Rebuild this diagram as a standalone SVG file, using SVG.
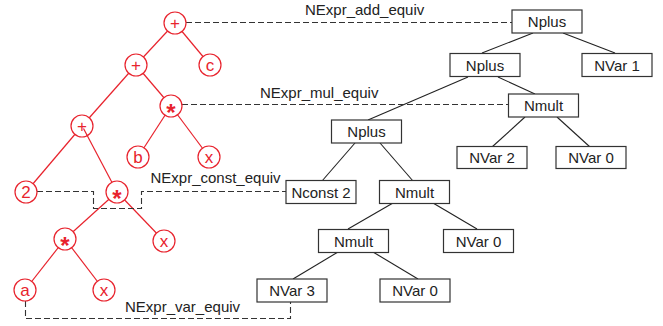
<svg xmlns="http://www.w3.org/2000/svg" width="663" height="326" viewBox="0 0 663 326">
<style>
.bg{fill:#fff}
.box rect{fill:#fff;stroke:#333;stroke-width:1.2}
.box text{font-family:"Liberation Sans",Arial,sans-serif;font-size:15px;fill:#222;text-anchor:middle}
.cn circle{fill:#fff;stroke:#e8232d;stroke-width:1.2}
.cn text{font-family:"Liberation Sans",Arial,sans-serif;font-size:17px;fill:#e8232d;text-anchor:middle}
.cn text.st{font-size:24px;font-weight:bold}
.red line{stroke:#e8232d;stroke-width:1.2}
.blk line{stroke:#222;stroke-width:1.1}
.dash{fill:none;stroke:#333;stroke-width:1.1;stroke-dasharray:6,3}
.lbl{font-family:"Liberation Sans",Arial,sans-serif;font-size:15px;fill:#222}
</style>
<rect class="bg" width="663" height="326"/>
<g id="connectors">
 <g class="red">
  <line x1="175" y1="23" x2="136" y2="65"/>
  <line x1="175" y1="23" x2="210" y2="65"/>
  <line x1="136" y1="65" x2="82" y2="126"/>
  <line x1="136" y1="65" x2="171" y2="106"/>
  <line x1="171" y1="106" x2="138" y2="157"/>
  <line x1="171" y1="106" x2="209" y2="157"/>
  <line x1="82" y1="126" x2="26" y2="192"/>
  <line x1="117" y1="192" x2="65" y2="239"/>
  <line x1="117" y1="192" x2="164" y2="241"/>
  <line x1="65" y1="239" x2="25" y2="290"/>
  <line x1="65" y1="239" x2="104" y2="290"/>
 </g>
 <g class="blk">
  <line x1="533" y1="33" x2="482" y2="53"/>
  <line x1="563" y1="33" x2="615" y2="53"/>
  <line x1="468" y1="77" x2="368" y2="120"/>
  <line x1="498" y1="77" x2="535" y2="94"/>
  <line x1="525" y1="117" x2="492" y2="147"/>
  <line x1="557" y1="117" x2="590" y2="147"/>
  <line x1="355" y1="143" x2="322" y2="181"/>
  <line x1="380" y1="143" x2="413" y2="181"/>
  <line x1="393" y1="203" x2="348" y2="229"/>
  <line x1="433" y1="203" x2="477" y2="229"/>
  <line x1="338" y1="252" x2="293" y2="279"/>
  <line x1="373" y1="252" x2="418" y2="279"/>
 </g>
 <path class="dash" d="M186,22.5H512"/>
 <path class="dash" d="M182,104.5H508"/>
 <path class="dash" d="M37,191.5H93.5V208.5H141.5V191.5H286"/>
 <path class="dash" d="M25.5,301V318.5H290.5V302"/>
 <text class="lbl" x="305" y="15">NExpr_add_equiv</text>
 <text class="lbl" x="260" y="98">NExpr_mul_equiv</text>
 <text class="lbl" x="150.5" y="183">NExpr_const_equiv</text>
 <text class="lbl" x="125" y="311.5">NExpr_var_equiv</text>
</g>
<g id="c_plus1" class="cn"><circle cx="175" cy="23" r="11"/><text x="175" y="29">+</text></g>
<g id="c_c" class="cn"><circle cx="210" cy="65" r="11"/><text x="210" y="71">c</text></g>
<g id="c_plus2" class="cn"><circle cx="136" cy="65" r="11"/><text x="136" y="71">+</text></g>
<g id="c_mul1" class="cn"><circle cx="171" cy="106" r="11"/><text class="st" x="171" y="121">*</text></g>
<g id="c_plus3" class="cn"><circle cx="82" cy="126" r="11"/><text x="82" y="132">+</text></g>
<g id="c_b" class="cn"><circle cx="138" cy="157" r="11"/><text x="138" y="163">b</text></g>
<g id="c_x1" class="cn"><circle cx="209" cy="157" r="11"/><text x="209" y="163">x</text></g>
<g id="c_2" class="cn"><circle cx="26" cy="192" r="11"/><text x="26" y="198">2</text></g>
<g id="c_mul2" class="cn"><circle cx="117" cy="192" r="11"/><text class="st" x="117" y="207">*</text></g>
<g id="c_mul3" class="cn"><circle cx="65" cy="239" r="11"/><text class="st" x="65" y="254">*</text></g>
<g id="c_x2" class="cn"><circle cx="164" cy="241" r="11"/><text x="164" y="247">x</text></g>
<g id="c_a" class="cn"><circle cx="25" cy="290" r="11"/><text x="25" y="296">a</text></g>
<g id="c_x3" class="cn"><circle cx="104" cy="290" r="11"/><text x="104" y="296">x</text></g>
<g class="red"><line x1="83.5" y1="128.5" x2="112" y2="182.5"/></g>
<g id="n_plus1" class="box"><rect x="512" y="10" width="70" height="23"/><text x="547" y="27">Nplus</text></g>
<g id="n_plus2" class="box"><rect x="450" y="53.5" width="70" height="23"/><text x="485" y="70.5">Nplus</text></g>
<g id="n_var1" class="box"><rect x="582" y="53.5" width="70" height="23"/><text x="617" y="70.5">NVar 1</text></g>
<g id="n_mult1" class="box"><rect x="508.5" y="94" width="70" height="23"/><text x="543.5" y="111">Nmult</text></g>
<g id="n_var2" class="box"><rect x="457" y="146.5" width="70" height="22"/><text x="492" y="163">NVar 2</text></g>
<g id="n_var0a" class="box"><rect x="556" y="146.5" width="70" height="22"/><text x="591" y="163">NVar 0</text></g>
<g id="n_plus3" class="box"><rect x="331.5" y="120" width="70" height="23"/><text x="366.5" y="137">Nplus</text></g>
<g id="n_const2" class="box"><rect x="286" y="180.5" width="70" height="23"/><text x="321" y="197.5">Nconst 2</text></g>
<g id="n_mult2" class="box"><rect x="379.5" y="180.5" width="70" height="23"/><text x="414.5" y="197.5">Nmult</text></g>
<g id="n_mult3" class="box"><rect x="318.5" y="229.5" width="70" height="23"/><text x="353.5" y="246.5">Nmult</text></g>
<g id="n_var0b" class="box"><rect x="443.5" y="229.5" width="70" height="23"/><text x="478.5" y="246.5">NVar 0</text></g>
<g id="n_var3" class="box"><rect x="257" y="279" width="70" height="23"/><text x="292" y="296">NVar 3</text></g>
<g id="n_var0c" class="box"><rect x="380" y="279" width="70" height="23"/><text x="415" y="296">NVar 0</text></g>
</svg>
